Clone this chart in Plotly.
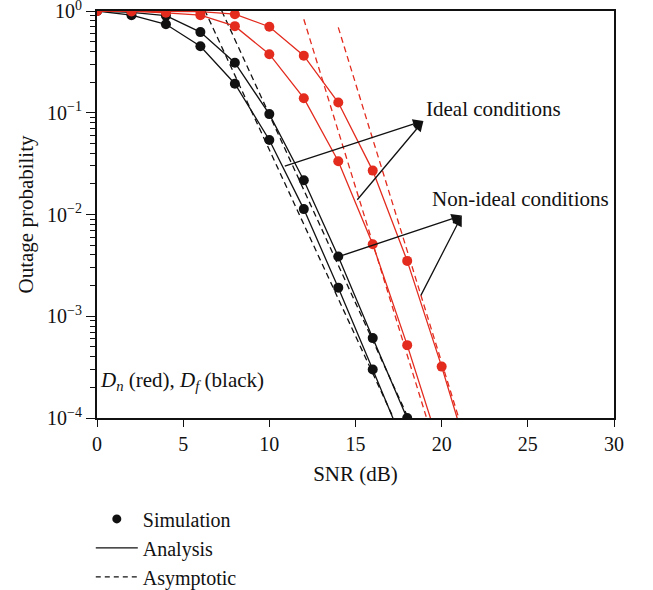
import plotly.graph_objects as go

# ---------------- data ----------------
snr_black = [0, 2, 4, 6, 8, 10, 12, 14, 16, 18, 20]
black_upper = [1.0, 0.97, 0.90, 0.62, 0.31, 0.097, 0.0217, 0.00386, 0.00061, 0.0001, 1.6e-5]
black_lower = [1.0, 0.91, 0.74, 0.45, 0.193, 0.054, 0.0113, 0.00191, 0.0003, 4.8e-5, 7e-6]

snr_red_a = [0, 2, 4, 6, 8, 10, 12, 14, 16, 18, 20]
red_a = [1.0, 0.99, 0.96, 0.91, 0.71, 0.376, 0.139, 0.0334, 0.0051, 5.2e-4, 4.5e-5]
snr_red_b = [0, 2, 4, 6, 8, 10, 12, 14, 16, 18, 20, 22]
red_b = [1.0, 1.0, 0.995, 0.985, 0.93, 0.70, 0.364, 0.126, 0.027, 0.0035, 3.2e-4, 2.4e-5]

asym_black_lower_x = [6, 18]
asym_black_lower_y = [1.26, 5.1e-5]
asym_black_upper_x = [7, 19]
asym_black_upper_y = [1.23, 4.5e-5]
asym_red_a_x = [12, 20]
asym_red_a_y = [0.83, 3.3e-5]
asym_red_b_x = [14, 22]
asym_red_b_y = [0.69, 2.8e-5]

ytick_vals = [1, 0.1, 0.01, 0.001, 0.0001]
ytick_text = ["10<sup>0</sup>", "10<sup>\u22121</sup>", "10<sup>\u22122</sup>",
              "10<sup>\u22123</sup>", "10<sup>\u22124</sup>"]
xtick_vals = [0, 5, 10, 15, 20, 25, 30]

RED = "#e32b1e"
BLACK = "#111111"
FONT = "Liberation Serif"
FS = 21

fig = go.Figure()

def add_curve(x, y, color):
    fig.add_trace(go.Scatter(x=x, y=y, mode="lines", line=dict(color=color, width=1.3),
                             showlegend=False, hoverinfo="skip"))

def add_asym(x, y, color):
    fig.add_trace(go.Scatter(x=x, y=y, mode="lines",
                             line=dict(color=color, width=1.3, dash="6px,4px"),
                             showlegend=False, hoverinfo="skip"))

def add_sim(x, y, color):
    fig.add_trace(go.Scatter(x=x, y=y, mode="markers",
                             marker=dict(color=color, size=10, line=dict(width=0)),
                             showlegend=False, hoverinfo="skip"))

# black (D_f)
add_curve(snr_black, black_upper, BLACK)
add_curve(snr_black, black_lower, BLACK)
add_asym(asym_black_lower_x, asym_black_lower_y, BLACK)
add_asym(asym_black_upper_x, asym_black_upper_y, BLACK)
add_sim(snr_black, black_upper, BLACK)
add_sim(snr_black, black_lower, BLACK)
# red (D_n)
add_curve(snr_red_a, red_a, RED)
add_curve(snr_red_b, red_b, RED)
add_asym(asym_red_a_x, asym_red_a_y, RED)
add_asym(asym_red_b_x, asym_red_b_y, RED)
add_sim(snr_red_a, red_a, RED)
add_sim(snr_red_b, red_b, RED)

# legend entries
fig.add_trace(go.Scatter(x=[None], y=[None], mode="markers", name="Simulation",
                         marker=dict(color=BLACK, size=9)))
fig.add_trace(go.Scatter(x=[None], y=[None], mode="lines", name="Analysis",
                         line=dict(color=BLACK, width=1.3)))
fig.add_trace(go.Scatter(x=[None], y=[None], mode="lines", name="Asymptotic",
                         line=dict(color=BLACK, width=1.3, dash="5px,4px")))

# annotations (arrows)
arrow_common = dict(xref="x", yref="y", axref="x", ayref="y", showarrow=True,
                    arrowhead=2, arrowsize=1.6, arrowwidth=1.3, arrowcolor=BLACK, text="")
fig.add_annotation(x=18.94, y=-1.08, ax=10.81, ay=-1.53, **arrow_common)
fig.add_annotation(x=18.94, y=-1.08, ax=15.03, ay=-1.87, **arrow_common)
fig.add_annotation(x=21.17, y=-2.01, ax=14.10, ay=-2.41, **arrow_common)
fig.add_annotation(x=21.17, y=-2.01, ax=18.75, ay=-2.81, **arrow_common)

fig.add_annotation(x=19.0, y=-0.96, xref="x", yref="y", text="Ideal conditions",
                   showarrow=False, xanchor="left", yanchor="middle",
                   font=dict(family=FONT, size=FS, color=BLACK))
fig.add_annotation(x=19.3, y=-1.85, xref="x", yref="y", text="Non-ideal conditions",
                   showarrow=False, xanchor="left", yanchor="middle",
                   font=dict(family=FONT, size=FS, color=BLACK))
fig.add_annotation(x=0.08, y=-3.64, xref="x", yref="y",
                   text="<i>D</i><sub><i>n</i></sub> (red), <i>D</i><sub><i>f</i></sub> (black)",
                   showarrow=False, xanchor="left", yanchor="middle",
                   font=dict(family=FONT, size=FS, color=BLACK))

fig.update_layout(
    width=653, height=590,
    margin=dict(l=97, r=39, t=11, b=172, autoexpand=False),
    paper_bgcolor="white", plot_bgcolor="white",
    font=dict(family=FONT, size=FS, color=BLACK),
    showlegend=True,
    legend=dict(x=-0.012, y=-0.2, xanchor="left", yanchor="top",
                bgcolor="rgba(0,0,0,0)", font=dict(family=FONT, size=20),
                itemwidth=42, tracegroupgap=0),
    xaxis=dict(range=[0, 30], tickvals=xtick_vals, ticks="outside", ticklen=7,
               tickwidth=1.3, tickcolor=BLACK, showline=True, linewidth=2,
               linecolor=BLACK, mirror=True, showgrid=False, zeroline=False,
               ticklabeloverflow="allow",
               tickfont=dict(family=FONT, size=20),
               title=dict(text="SNR (dB)", font=dict(family=FONT, size=FS), standoff=12)),
    yaxis=dict(type="log", range=[-4, 0], tickvals=ytick_vals, ticktext=ytick_text,
               ticks="outside", ticklen=9, tickwidth=1.3, tickcolor=BLACK,
               showline=True, linewidth=2, linecolor=BLACK, mirror=True,
               showgrid=False, zeroline=False, ticklabeloverflow="allow",
               tickfont=dict(family=FONT, size=20),
               minor=dict(ticks="outside", ticklen=5, tickwidth=1, tickcolor=BLACK,
                          dtick="D1", showgrid=False),
               title=dict(text="Outage probability", font=dict(family=FONT, size=FS),
                          standoff=8)),
)

fig.write_html("out.html")
